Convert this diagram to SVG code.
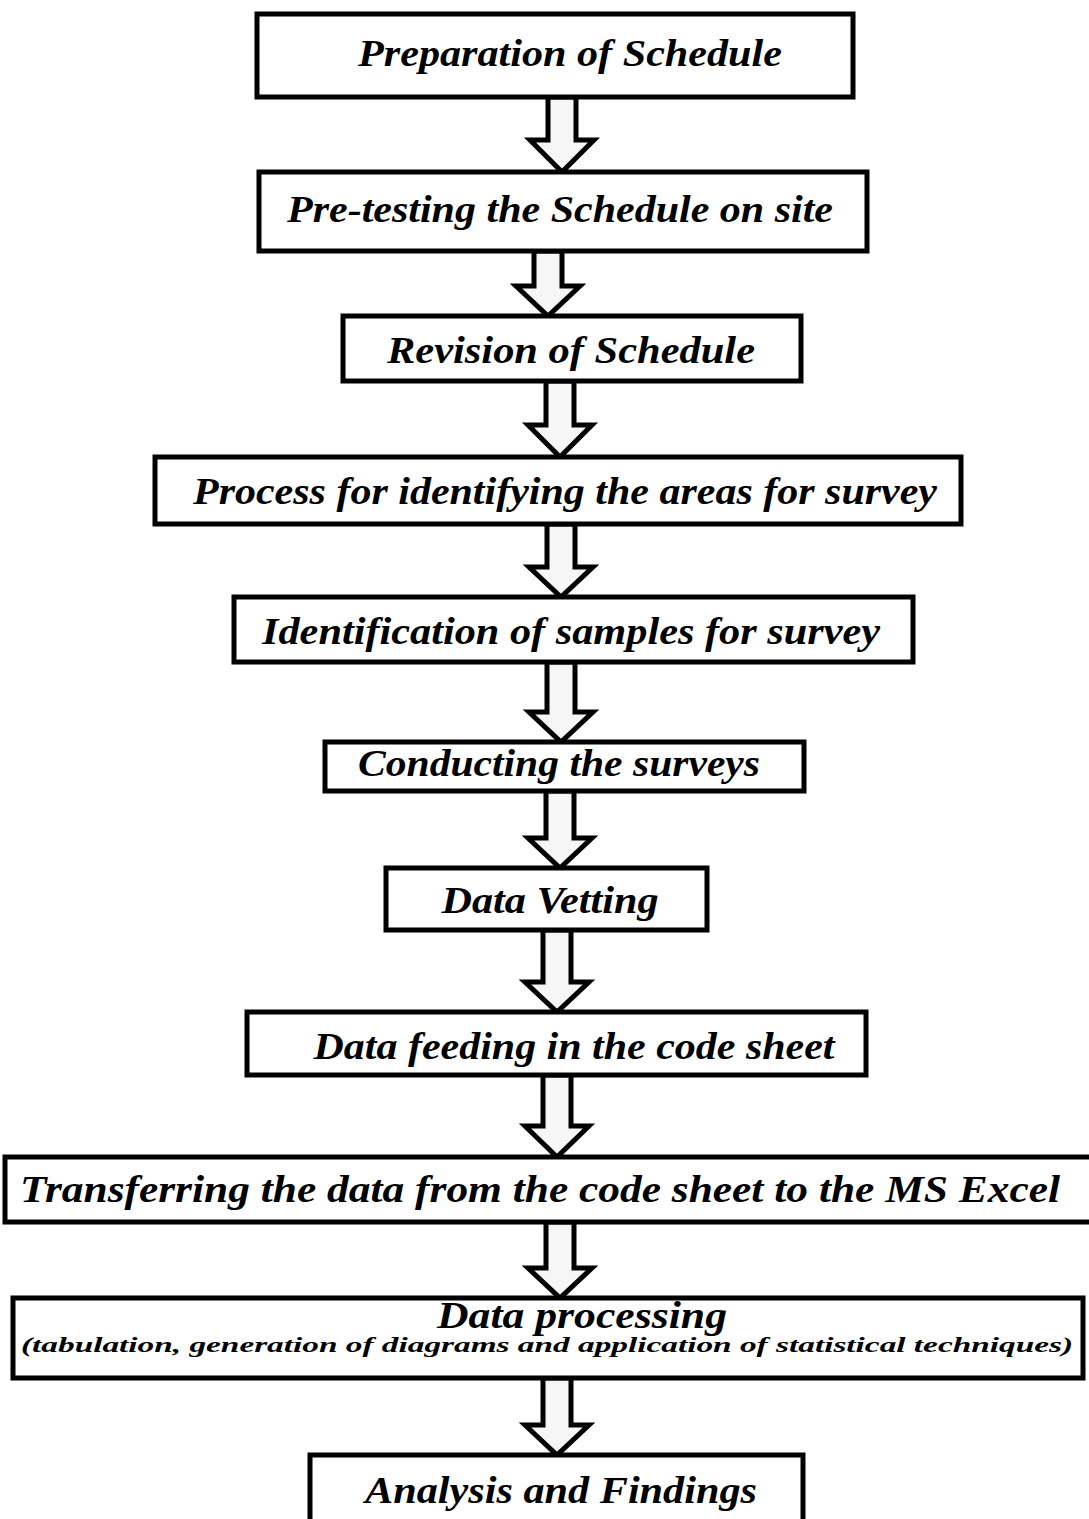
<svg xmlns="http://www.w3.org/2000/svg" width="1089" height="1519" viewBox="0 0 1089 1519">
<style>
.box{fill:#fff;stroke:#000;stroke-width:5}
.arr{fill:#f6f6f6;stroke:#000;stroke-width:5;stroke-linejoin:miter}
.t{font-family:"Liberation Serif","Times New Roman",serif;font-weight:bold;font-style:italic;font-size:38px;fill:#000;text-anchor:middle}
.s{font-family:"Liberation Serif","Times New Roman",serif;font-weight:bold;font-style:italic;font-size:22px;fill:#000;text-anchor:middle}
</style>
<rect width="1089" height="1519" fill="#fff"/>
<g id="connectors">
<path class="arr" d="M548,97 L576,97 L576,140 L594,140 L562,172 L530,140 L548,140 Z"/>
<path class="arr" d="M534,251 L562,251 L562,286 L580,286 L548,316 L516,286 L534,286 Z"/>
<path class="arr" d="M546,381 L574,381 L574,425 L592,425 L560,457 L528,425 L546,425 Z"/>
<path class="arr" d="M547,524 L575,524 L575,567 L593,567 L561,597 L529,567 L547,567 Z"/>
<path class="arr" d="M547,662 L575,662 L575,712 L593,712 L561,742 L529,712 L547,712 Z"/>
<path class="arr" d="M546,791 L574,791 L574,838 L592,838 L560,868 L528,838 L546,838 Z"/>
<path class="arr" d="M543,930 L571,930 L571,982 L589,982 L557,1012 L525,982 L543,982 Z"/>
<path class="arr" d="M543,1075 L571,1075 L571,1126 L589,1126 L557,1157 L525,1126 L543,1126 Z"/>
<path class="arr" d="M546,1222 L574,1222 L574,1268 L592,1268 L560,1298 L528,1268 L546,1268 Z"/>
<path class="arr" d="M543,1378 L571,1378 L571,1425 L589,1425 L557,1455 L525,1425 L543,1425 Z"/>
</g>
<g id="n1"><rect class="box" x="257" y="14" width="596" height="83"/><text class="t" x="570" y="66" textLength="424" lengthAdjust="spacingAndGlyphs">Preparation of Schedule</text></g>
<g id="n2"><rect class="box" x="259" y="172" width="608" height="79"/><text class="t" x="560" y="222" textLength="546" lengthAdjust="spacingAndGlyphs">Pre-testing the Schedule on site</text></g>
<g id="n3"><rect class="box" x="343" y="316" width="458" height="65"/><text class="t" x="571" y="363" textLength="368" lengthAdjust="spacingAndGlyphs">Revision of Schedule</text></g>
<g id="n4"><rect class="box" x="155" y="457" width="806" height="67"/><text class="t" x="565" y="504" textLength="744" lengthAdjust="spacingAndGlyphs">Process for identifying the areas for survey</text></g>
<g id="n5"><rect class="box" x="234" y="597" width="679" height="65"/><text class="t" x="571" y="644" textLength="618" lengthAdjust="spacingAndGlyphs">Identification of samples for survey</text></g>
<g id="n6"><rect class="box" x="325" y="742" width="479" height="49"/><text class="t" x="559" y="776" textLength="402" lengthAdjust="spacingAndGlyphs">Conducting the surveys</text></g>
<g id="n7"><rect class="box" x="386" y="868" width="321" height="62"/><text class="t" x="550" y="913" textLength="217" lengthAdjust="spacingAndGlyphs">Data Vetting</text></g>
<g id="n8"><rect class="box" x="247" y="1012" width="619" height="63"/><text class="t" x="574" y="1059" textLength="521" lengthAdjust="spacingAndGlyphs">Data feeding in the code sheet</text></g>
<g id="n9"><rect class="box" x="5" y="1157" width="1090" height="65"/><text class="t" x="540" y="1202" textLength="1040" lengthAdjust="spacingAndGlyphs">Transferring  the data from the code sheet to the MS Excel</text></g>
<g id="n10"><rect class="box" x="13" y="1298" width="1070" height="80"/><text class="t" x="582" y="1328" textLength="290" lengthAdjust="spacingAndGlyphs">Data processing</text><text class="s" x="547" y="1352" textLength="1052" lengthAdjust="spacingAndGlyphs">(tabulation, generation of diagrams and application of statistical techniques)</text></g>
<g id="n11"><rect class="box" x="310" y="1455" width="493" height="70"/><text class="t" x="561" y="1503" textLength="392" lengthAdjust="spacingAndGlyphs">Analysis and Findings</text></g>
</svg>
